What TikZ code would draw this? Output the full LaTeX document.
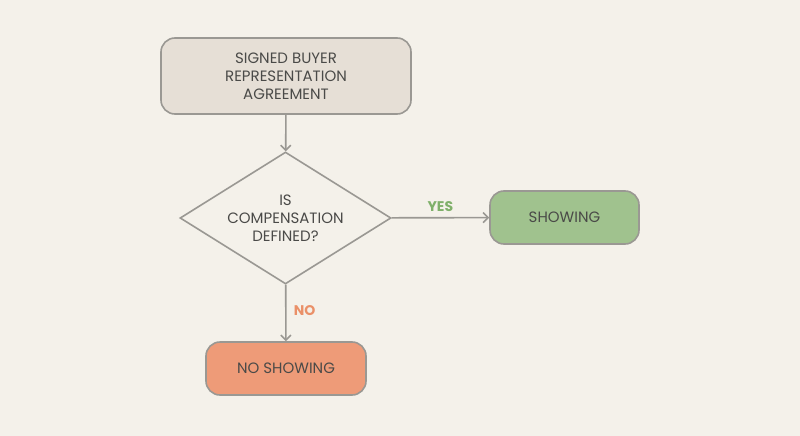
\documentclass[tikz,border=0pt]{standalone}
\usepackage{fontspec}
\setmainfont{Poppins}
\usetikzlibrary{positioning,shapes.geometric,arrows.meta}
\definecolor{bgcream}{HTML}{F4F1EA}
\definecolor{edgegray}{HTML}{9A9893}
\definecolor{boxtan}{HTML}{E6DFD6}
\definecolor{boxgreen}{HTML}{A0C28E}
\definecolor{boxorange}{HTML}{EE9B78}
\definecolor{txtgray}{HTML}{4A4A48}
\definecolor{yesgreen}{HTML}{7FB06A}
\definecolor{noorange}{HTML}{EA9068}
\tikzset{
  stage/.style={draw=edgegray, line width=1.6pt, rounded corners=14pt, text=txtgray,
    font=\fontsize{15}{18}\selectfont, align=center},
  decide/.style={diamond, draw=edgegray, line width=1.6pt, fill=bgcream, text=txtgray,
    font=\fontsize{15}{18}\selectfont, align=center, aspect=1.39, inner sep=0pt,
    minimum width=211pt, minimum height=132pt},
  flow/.style={draw=edgegray, line width=1.6pt, -{Straight Barb[length=5pt,width=10pt]}},
  tag/.style={font=\bfseries\fontsize{14}{16}\selectfont}
}
\begin{document}
\begin{tikzpicture}[x=1pt,y=-1pt]
	\fill[bgcream] (0,0) rectangle (800,436);
	\useasboundingbox (0,0) rectangle (800,436);

	\node[stage, fill=boxtan, minimum width=250pt, minimum height=76pt] (agreement) at (286,76) {SIGNED BUYER\\REPRESENTATION\\AGREEMENT};
	\node[decide] (compensation) at (285.5,218) {IS\\COMPENSATION\\DEFINED?};
	\node[stage, fill=boxgreen, minimum width=149pt, minimum height=53pt] (showing) at (564.5,217.5) {SHOWING};
	\node[stage, fill=boxorange, minimum width=160pt, minimum height=53pt] (noshowing) at (286,368.5) {NO SHOWING};

	\draw[flow] (agreement) -- (compensation);
	\draw[flow] (compensation) -- node[tag, text=yesgreen, above=2pt] {YES} (showing);
	\draw[flow] (compensation) -- node[tag, text=noorange, right=4pt, pos=0.45] {NO} (noshowing);
\end{tikzpicture}
\end{document}
